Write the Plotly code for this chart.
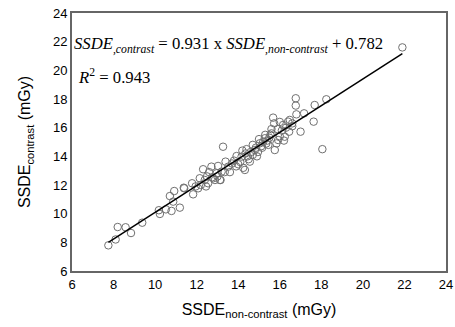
import plotly.graph_objects as go

x_noncontrast = [
    7.75, 8.1, 8.2, 8.58, 8.84, 9.38, 10.18, 10.23, 10.52, 10.79, 10.71, 10.92, 10.87, 11.19,
    11.38, 11.4, 11.78, 11.83, 12.07, 12.15, 12.31, 12.39, 12.55, 12.71, 12.75, 12.8, 12.88,
    12.96, 13.03, 13.12, 13.15, 13.2, 13.27, 13.39, 13.52, 13.7, 13.8, 13.92, 14.0, 14.16,
    14.24, 14.32, 14.35, 14.45, 14.56, 14.6, 14.7, 14.8, 14.85, 14.95, 15.04, 15.1, 15.2,
    15.28, 15.35, 15.4, 15.5, 15.55, 15.6, 15.68, 15.73, 15.76, 15.84, 15.92, 16.0, 16.1,
    16.16, 16.24, 16.3, 16.4, 16.45, 16.48, 16.6, 16.77, 16.77, 16.8, 17.0, 17.17, 17.63,
    17.68, 18.05, 18.24, 21.9, 12.5, 12.2, 13.6, 13.9, 14.1, 14.5, 14.9, 15.15, 15.45, 15.0,
    14.4, 13.35, 12.6, 11.95, 15.9, 16.2, 16.6, 14.7, 15.3, 13.0, 12.45, 14.2, 16.0, 15.6,
]
y_contrast = [
    7.79, 8.2, 9.07, 9.05, 8.65, 9.37, 10.24, 9.98, 10.3, 10.19, 11.23, 11.58, 10.84, 10.42,
    11.81, 11.77, 12.12, 11.35, 11.77, 12.47, 13.1, 12.35, 12.12, 13.28, 12.54, 12.47, 12.35,
    12.82, 13.33, 12.35, 12.35, 12.93, 14.67, 13.63, 13.28, 13.5, 13.7, 14.02, 13.45, 13.98,
    13.2, 13.05, 14.2, 14.0, 13.63, 14.3, 14.1, 14.44, 14.6, 14.3, 14.91, 14.7, 15.0,
    15.26, 14.9, 15.1, 15.3, 15.5, 15.6, 16.7, 16.3, 14.44, 14.9, 15.14, 15.4, 15.8,
    16.19, 15.37, 16.0, 16.42, 15.72, 16.54, 16.3, 18.05, 17.54, 16.93, 15.72, 17.0, 16.42,
    17.58, 14.5, 17.98, 21.6, 12.6, 12.0, 12.9, 13.3, 13.6, 13.8, 14.0, 14.6, 14.8, 15.2,
    14.5, 12.9, 12.9, 11.9, 15.9, 15.1, 16.1, 14.8, 15.5, 12.6, 11.9, 14.4, 16.4, 15.9,
]

slope = 0.931
intercept = 0.782
fit_x = [min(x_noncontrast), max(x_noncontrast)]
fit_y = [slope * v + intercept for v in fit_x]

ticks = [6, 8, 10, 12, 14, 16, 18, 20, 22, 24]

fig = go.Figure()
fig.add_trace(go.Scatter(
    x=x_noncontrast, y=y_contrast, mode="markers",
    marker=dict(symbol="circle-open", size=7.5, color="#707070", line=dict(width=1)),
    showlegend=False, hoverinfo="skip",
))
fig.add_trace(go.Scatter(
    x=fit_x, y=fit_y, mode="lines",
    line=dict(color="black", width=1.5), showlegend=False, hoverinfo="skip",
))

axis_common = dict(
    range=[6, 24], tickvals=ticks, ticktext=[str(t) for t in ticks],
    showgrid=False, zeroline=False, showline=True, mirror=True,
    linecolor="#666666", linewidth=2, ticks="", automargin=False,
    tickfont=dict(family="Liberation Sans, Arial", size=13, color="black"),
)

fig.update_layout(
    width=455, height=327,
    margin=dict(l=72, r=9, t=13, b=56),
    paper_bgcolor="white", plot_bgcolor="white",
    xaxis=dict(**axis_common,
               title=dict(text="SSDE<sub>non-contrast</sub> (mGy)",
                          font=dict(family="Liberation Sans, Arial", size=16, color="black"),
                          standoff=13)),
    yaxis=dict(**axis_common,
               title=dict(text="SSDE<sub>contrast</sub> (mGy)",
                          font=dict(family="Liberation Sans, Arial", size=16, color="black"),
                          standoff=18)),
    annotations=[
        dict(xref="paper", yref="paper", x=0.002, y=0.875, xanchor="left", yanchor="middle",
             text="<i>SSDE<sub>,contrast</sub></i> = 0.931 x <i>SSDE<sub>,non-contrast</sub></i> + 0.782",
             showarrow=False, bgcolor="white", borderpad=0,
             font=dict(family="Liberation Serif, Times New Roman", size=16.7, color="black")),
        dict(xref="paper", yref="paper", x=0.014, y=0.752, xanchor="left", yanchor="middle",
             text="<i>R</i><sup>2</sup> = 0.943",
             showarrow=False, bgcolor="white", borderpad=0,
             font=dict(family="Liberation Serif, Times New Roman", size=16.7, color="black")),
    ],
)

fig.write_html("out.html", config={"displayModeBar": False},
               post_script="document.body.style.margin='0';document.body.style.overflow='hidden';")
